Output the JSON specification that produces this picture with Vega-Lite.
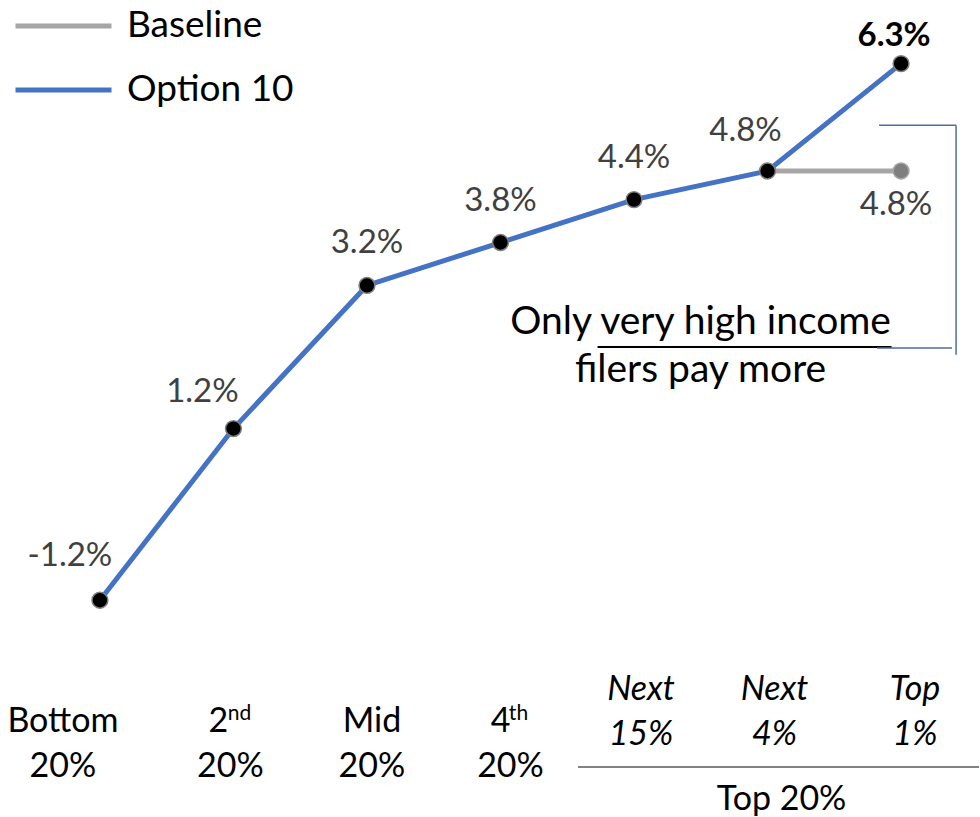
{
  "$schema": "https://vega.github.io/schema/vega-lite/v6.json",
  "width": 980,
  "height": 817,
  "autosize": {"type": "fit", "contains": "padding"},
  "padding": 0,
  "background": "white",
  "config": {"view": {"stroke": null}, "font": "Lato", "text": {"font": "Lato"}},
  "datasets": {
    "series": [
      {"group": "Bottom 20%", "series": "Option 10", "value": -1.2},
      {"group": "2nd 20%", "series": "Option 10", "value": 1.2},
      {"group": "Mid 20%", "series": "Option 10", "value": 3.2},
      {"group": "4th 20%", "series": "Option 10", "value": 3.8},
      {"group": "Next 15%", "series": "Option 10", "value": 4.4},
      {"group": "Next 4%", "series": "Option 10", "value": 4.8},
      {"group": "Top 1%", "series": "Option 10", "value": 6.3},
      {"group": "Next 4%", "series": "Baseline", "value": 4.8},
      {"group": "Top 1%", "series": "Baseline", "value": 4.8}
    ],
    "groups": [
      {"group": "Bottom 20%", "l1": "Bottom", "l2": "20%", "sup": ""},
      {"group": "2nd 20%", "l1": "2", "l2": "20%", "sup": "nd"},
      {"group": "Mid 20%", "l1": "Mid", "l2": "20%", "sup": ""},
      {"group": "4th 20%", "l1": "4", "l2": "20%", "sup": "th"},
      {"group": "Next 15%", "l1": "Next", "l2": "15%", "sup": ""},
      {"group": "Next 4%", "l1": "Next", "l2": "4%", "sup": ""},
      {"group": "Top 1%", "l1": "Top", "l2": "1%", "sup": ""}
    ],
    "notes": [
      {"anchor": "Next 4%", "kind": "span", "text": "Top 20%"},
      {"anchor": "Next 4%", "kind": "callout", "text": "Only very high income|filers pay more"}
    ]
  },
  "layer": [
    {
      "data": {"name": "series"},
      "mark": {"type": "line", "strokeWidth": 5},
      "encoding": {
        "x": {"field": "group", "type": "nominal", "sort": null,
          "scale": {"type": "point", "domain": ["Bottom 20%", "2nd 20%", "Mid 20%", "4th 20%", "Next 15%", "Next 4%", "Top 1%"], "padding": 0.666, "align": 0.5618},
          "axis": null},
        "y": {"field": "value", "type": "quantitative", "scale": {"domain": [-4.23, 7.19], "nice": false, "zero": false}, "axis": null},
        "color": {"field": "series", "type": "nominal",
          "scale": {"domain": ["Baseline", "Option 10"], "range": ["#A6A6A6", "#4472C4"]},
          "legend": {"orient": "none", "legendX": 13, "legendY": -6, "title": null, "padding": 0,
            "symbolType": "stroke", "symbolSize": 9216, "symbolStrokeWidth": 5,
            "labelFontSize": 37, "labelColor": "black", "labelFont": "Lato", "labelOffset": 13, "labelLimit": 400, "rowPadding": 0, "clipHeight": 64}}
      }
    },
    {
      "data": {"name": "series"},
      "transform": [{"filter": "datum.series === 'Option 10'"}],
      "mark": {"type": "point", "filled": true, "fill": "black", "stroke": "#7F7F7F", "strokeWidth": 1.5, "size": 250, "opacity": 1},
      "encoding": {"x": {"field": "group", "type": "nominal"}, "y": {"field": "value", "type": "quantitative"}}
    },
    {
      "data": {"name": "series"},
      "transform": [{"filter": "datum.series === 'Baseline' && datum.group === 'Top 1%'"}],
      "mark": {"type": "point", "filled": true, "fill": "#7F7F7F", "stroke": "#A6A6A6", "strokeWidth": 1.5, "size": 250, "opacity": 1},
      "encoding": {"x": {"field": "group", "type": "nominal"}, "y": {"field": "value", "type": "quantitative"}}
    },
    {
      "data": {"name": "series"},
      "transform": [{"filter": "datum.series === 'Option 10' && datum.group === 'Bottom 20%'"}, {"calculate": "replace(format(datum.value, '.1f'), '\u2212', '-') + '%'", "as": "label"}],
      "mark": {"type": "text", "fontSize": 33, "color": "#404040", "baseline": "middle", "dx": -30, "dy": -44},
      "encoding": {"x": {"field": "group", "type": "nominal"}, "y": {"field": "value", "type": "quantitative"}, "text": {"field": "label"}}
    },
    {
      "data": {"name": "series"},
      "transform": [{"filter": "datum.series === 'Option 10' && datum.group === '2nd 20%'"}, {"calculate": "format(datum.value, '.1f') + '%'", "as": "label"}],
      "mark": {"type": "text", "fontSize": 33, "color": "#404040", "baseline": "middle", "dx": -31, "dy": -37},
      "encoding": {"x": {"field": "group", "type": "nominal"}, "y": {"field": "value", "type": "quantitative"}, "text": {"field": "label"}}
    },
    {
      "data": {"name": "series"},
      "transform": [{"filter": "datum.series === 'Option 10' && indexof(['Mid 20%', '4th 20%', 'Next 15%'], datum.group) >= 0"}, {"calculate": "format(datum.value, '.1f') + '%'", "as": "label"}],
      "mark": {"type": "text", "fontSize": 33, "color": "#404040", "baseline": "middle", "dx": 0, "dy": -42},
      "encoding": {"x": {"field": "group", "type": "nominal"}, "y": {"field": "value", "type": "quantitative"}, "text": {"field": "label"}}
    },
    {
      "data": {"name": "series"},
      "transform": [{"filter": "datum.series === 'Option 10' && datum.group === 'Next 4%'"}, {"calculate": "format(datum.value, '.1f') + '%'", "as": "label"}],
      "mark": {"type": "text", "fontSize": 33, "color": "#404040", "baseline": "middle", "dx": -22, "dy": -40},
      "encoding": {"x": {"field": "group", "type": "nominal"}, "y": {"field": "value", "type": "quantitative"}, "text": {"field": "label"}}
    },
    {
      "data": {"name": "series"},
      "transform": [{"filter": "datum.series === 'Option 10' && datum.group === 'Top 1%'"}, {"calculate": "format(datum.value, '.1f') + '%'", "as": "label"}],
      "mark": {"type": "text", "fontSize": 33, "fontWeight": "bold", "color": "black", "baseline": "middle", "dx": -7, "dy": -28},
      "encoding": {"x": {"field": "group", "type": "nominal"}, "y": {"field": "value", "type": "quantitative"}, "text": {"field": "label"}}
    },
    {
      "data": {"name": "series"},
      "transform": [{"filter": "datum.series === 'Baseline' && datum.group === 'Top 1%'"}, {"calculate": "format(datum.value, '.1f') + '%'", "as": "label"}],
      "mark": {"type": "text", "fontSize": 33, "color": "#404040", "baseline": "middle", "dx": -5, "dy": 34},
      "encoding": {"x": {"field": "group", "type": "nominal"}, "y": {"field": "value", "type": "quantitative"}, "text": {"field": "label"}}
    },
    {
      "data": {"name": "groups"},
      "transform": [{"filter": "datum.group === 'Bottom 20%'"}, {"calculate": "[datum.l1, datum.l2]", "as": "lines"}],
      "mark": {"type": "text", "fontSize": 34, "color": "black", "baseline": "middle", "lineHeight": 45, "dx": -37},
      "encoding": {"x": {"field": "group", "type": "nominal"}, "y": {"datum": -2.905}, "text": {"field": "lines"}}
    },
    {
      "data": {"name": "groups"},
      "transform": [{"filter": "datum.group === 'Mid 20%'"}, {"calculate": "[datum.l1, datum.l2]", "as": "lines"}],
      "mark": {"type": "text", "fontSize": 34, "color": "black", "baseline": "middle", "lineHeight": 45, "dx": 5},
      "encoding": {"x": {"field": "group", "type": "nominal"}, "y": {"datum": -2.905}, "text": {"field": "lines"}}
    },
    {
      "data": {"name": "groups"},
      "transform": [{"filter": "datum.group === '2nd 20%'"}],
      "mark": {"type": "text", "fontSize": 34, "color": "black", "baseline": "middle", "dx": -15},
      "encoding": {"x": {"field": "group", "type": "nominal"}, "y": {"datum": -2.905}, "text": {"field": "l1"}}
    },
    {
      "data": {"name": "groups"},
      "transform": [{"filter": "datum.group === '2nd 20%'"}],
      "mark": {"type": "text", "fontSize": 21, "color": "black", "baseline": "middle", "dx": 6},
      "encoding": {"x": {"field": "group", "type": "nominal"}, "y": {"datum": -2.79}, "text": {"field": "sup"}}
    },
    {
      "data": {"name": "groups"},
      "transform": [{"filter": "datum.group === '2nd 20%'"}],
      "mark": {"type": "text", "fontSize": 34, "color": "black", "baseline": "middle", "dx": -3},
      "encoding": {"x": {"field": "group", "type": "nominal"}, "y": {"datum": -3.53}, "text": {"field": "l2"}}
    },
    {
      "data": {"name": "groups"},
      "transform": [{"filter": "datum.group === '4th 20%'"}],
      "mark": {"type": "text", "fontSize": 34, "color": "black", "baseline": "middle", "dx": 0},
      "encoding": {"x": {"field": "group", "type": "nominal"}, "y": {"datum": -2.905}, "text": {"field": "l1"}}
    },
    {
      "data": {"name": "groups"},
      "transform": [{"filter": "datum.group === '4th 20%'"}],
      "mark": {"type": "text", "fontSize": 21, "color": "black", "baseline": "middle", "dx": 18},
      "encoding": {"x": {"field": "group", "type": "nominal"}, "y": {"datum": -2.79}, "text": {"field": "sup"}}
    },
    {
      "data": {"name": "groups"},
      "transform": [{"filter": "datum.group === '4th 20%'"}],
      "mark": {"type": "text", "fontSize": 34, "color": "black", "baseline": "middle", "dx": 10},
      "encoding": {"x": {"field": "group", "type": "nominal"}, "y": {"datum": -3.53}, "text": {"field": "l2"}}
    },
    {
      "data": {"name": "groups"},
      "transform": [{"filter": "indexof(['Next 15%', 'Next 4%'], datum.group) >= 0"}, {"calculate": "[datum.l1, datum.l2]", "as": "lines"}],
      "mark": {"type": "text", "fontSize": 34, "fontStyle": "italic", "color": "black", "baseline": "middle", "lineHeight": 45, "dx": 7},
      "encoding": {"x": {"field": "group", "type": "nominal"}, "y": {"datum": -2.457}, "text": {"field": "lines"}}
    },
    {
      "data": {"name": "groups"},
      "transform": [{"filter": "datum.group === 'Top 1%'"}, {"calculate": "[datum.l1, datum.l2]", "as": "lines"}],
      "mark": {"type": "text", "fontSize": 34, "fontStyle": "italic", "color": "black", "baseline": "middle", "lineHeight": 45, "dx": 14},
      "encoding": {"x": {"field": "group", "type": "nominal"}, "y": {"datum": -2.457}, "text": {"field": "lines"}}
    },
    {
      "data": {"name": "notes"},
      "transform": [{"filter": "datum.kind === 'span'"}],
      "mark": {"type": "text", "fontSize": 34, "color": "black", "baseline": "middle", "dx": 14},
      "encoding": {"x": {"field": "anchor", "type": "nominal"}, "y": {"datum": -3.99}, "text": {"field": "text"}}
    },
    {
      "data": {"name": "notes"},
      "transform": [{"filter": "datum.kind === 'span'"}],
      "mark": {"type": "rule", "color": "#595959", "strokeWidth": 1.5, "xOffset": -56, "x2Offset": 78},
      "encoding": {"x": {"datum": "Next 15%"}, "x2": {"datum": "Top 1%"}, "y": {"datum": -3.53}}
    },
    {
      "data": {"name": "notes"},
      "transform": [{"filter": "datum.kind === 'callout'"}, {"calculate": "split(datum.text, '|')", "as": "lines"}],
      "mark": {"type": "text", "fontSize": 39, "color": "black", "baseline": "middle", "lineHeight": 48, "dx": -67},
      "encoding": {"x": {"field": "anchor", "type": "nominal"}, "y": {"datum": 2.689}, "text": {"field": "lines"}}
    },
    {
      "data": {"name": "notes"},
      "transform": [{"filter": "datum.kind === 'callout'"}],
      "mark": {"type": "rule", "color": "black", "strokeWidth": 2, "xOffset": -170, "x2Offset": 124},
      "encoding": {"x": {"datum": "Next 4%"}, "x2": {"datum": "Next 4%"}, "y": {"datum": 2.34}}
    },
    {
      "data": {"name": "notes"},
      "transform": [{"filter": "datum.kind === 'callout'"}],
      "mark": {"type": "rule", "color": "#4F6C9A", "strokeWidth": 1.5, "xOffset": -22, "x2Offset": 55},
      "encoding": {"x": {"datum": "Top 1%"}, "x2": {"datum": "Top 1%"}, "y": {"datum": 5.44}}
    },
    {
      "data": {"name": "notes"},
      "transform": [{"filter": "datum.kind === 'callout'"}],
      "mark": {"type": "rule", "color": "#4F6C9A", "strokeWidth": 1.5, "xOffset": 55},
      "encoding": {"x": {"datum": "Top 1%"}, "y": {"datum": 5.44}, "y2": {"datum": 2.23}}
    },
    {
      "data": {"name": "notes"},
      "transform": [{"filter": "datum.kind === 'callout'"}],
      "mark": {"type": "rule", "color": "#4F6C9A", "strokeWidth": 1.5, "xOffset": -24, "x2Offset": 51},
      "encoding": {"x": {"datum": "Top 1%"}, "x2": {"datum": "Top 1%"}, "y": {"datum": 2.326}}
    }
  ]
}
